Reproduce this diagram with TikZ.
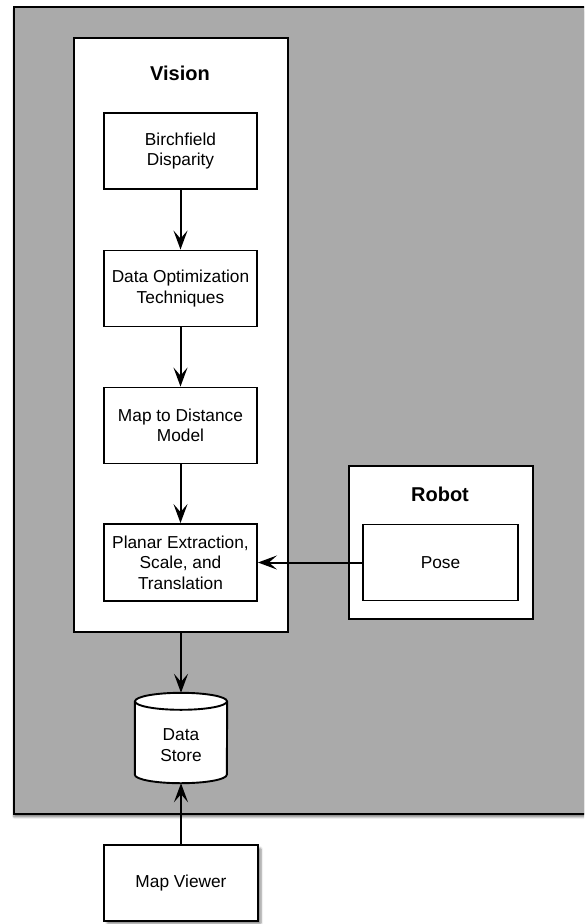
\documentclass[tikz,border=0pt]{standalone}
\usepackage{fontspec}
\setmainfont{Liberation Sans}
\usetikzlibrary{arrows.meta,shadows.blur}

\tikzset{
  px/.style={x=1pt,y=-1pt},
  line/.style={line width=1.9pt,draw=black},
  flow/.style={line width=2pt,-{Stealth[length=19pt,width=14pt,inset=8pt]}},
  procbox/.style={line,fill=white,inner sep=0pt,align=center,
    font=\fontsize{17.3}{20.5}\selectfont},
  groupbox/.style={line,fill=white,inner sep=0pt},
  grouplabel/.style={font=\fontsize{20}{24}\selectfont\bfseries},
  softshadow/.style={blur shadow={shadow xshift=3pt,shadow yshift=-3pt,
    shadow blur steps=6,shadow blur extra rounding=1pt,shadow opacity=45}},
}

\begin{document}
\begin{tikzpicture}[px]
\useasboundingbox (0,0) rectangle (584,924);

% grey system area, running off the right edge
\begin{scope}
  \clip (0,0) rectangle (584,924);
  \node[line,fill={rgb,255:red,170;green,170;blue,170},inner sep=0pt,
        minimum width=700pt,minimum height=807pt,anchor=north west,
        blur shadow={shadow xshift=0pt,shadow yshift=-3pt,shadow blur steps=6,shadow opacity=50}]
        (system) at (13,6) {};
\end{scope}

% Vision group
\node[groupbox,minimum width=214pt,minimum height=594pt,anchor=north west] (vision) at (73,37) {};
\node[grouplabel] (visionlbl) at (180,73) {Vision};

\node[procbox,minimum width=153pt,minimum height=76pt] (birch) at (180.5,151) {Birchfield\\Disparity};
\node[procbox,minimum width=153pt,minimum height=76pt] (opt)   at (180.5,288.5) {Data Optimization\\Techniques};
\node[procbox,minimum width=153pt,minimum height=76pt] (dist)  at (180.5,425.5) {Map to Distance\\Model};
\node[procbox,minimum width=153pt,minimum height=77pt] (planar) at (180.5,562.5) {Planar Extraction,\\Scale, and\\Translation};

% Robot group
\node[groupbox,minimum width=184pt,minimum height=153pt,anchor=north west] (robot) at (348,465) {};
\node[grouplabel] (robotlbl) at (440,494) {Robot};
\node[procbox,minimum width=155pt,minimum height=76pt] (pose) at (440.5,562.5) {Pose};

% Data store cylinder
\node[minimum width=92pt,minimum height=90pt,inner sep=0pt] (store) at (181,738) {};
\fill[white] ([yshift=-8.5pt]store.north west) -- ([yshift=8.5pt]store.south west)
  arc[start angle=180,end angle=360,x radius=46pt,y radius=8.5pt]
  -- ([yshift=-8.5pt]store.north east)
  arc[start angle=0,end angle=180,x radius=46pt,y radius=8.5pt] -- cycle;
\draw[line] ([yshift=-8.5pt]store.north west) -- ([yshift=8.5pt]store.south west)
  arc[start angle=180,end angle=360,x radius=46pt,y radius=8.5pt]
  -- ([yshift=-8.5pt]store.north east);
\draw[line] ([yshift=-8.5pt]store.north) ellipse[x radius=46pt,y radius=8.5pt];
\node[align=center,font=\fontsize{17.3}{20.5}\selectfont] (storelbl) at (181,745) {Data\\Store};

% Map viewer outside the system area
\node[procbox,softshadow,minimum width=154pt,minimum height=76pt] (viewer) at (181,883) {Map Viewer};

% connectors
\draw[flow] (birch) -- (opt);
\draw[flow] (opt) -- (dist);
\draw[flow] (dist) -- (planar);
\draw[flow] (pose) -- (planar);
\draw[flow] (vision.south -| store.north) -- (store.north);
\draw[flow] (viewer) -- (store.south);
\end{tikzpicture}
\end{document}
